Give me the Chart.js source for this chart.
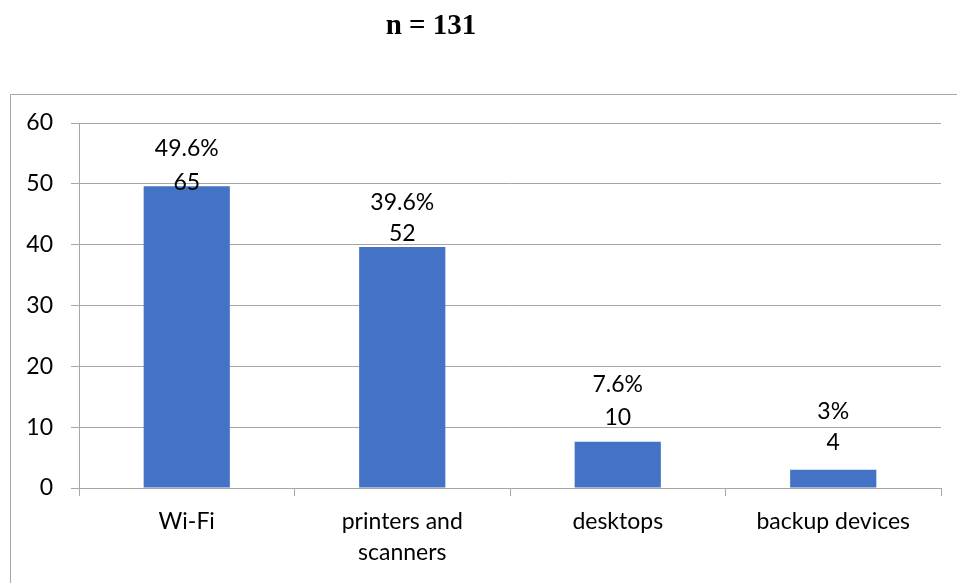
<!DOCTYPE html>
<html>
<head>
<meta charset="utf-8">
<title>Devices</title>
<script src="https://cdn.jsdelivr.net/npm/chart.js@4/dist/chart.umd.min.js"></script>
<style>
  html, body { margin: 0; padding: 0; background: #ffffff; }
  #wrap { width: 957px; height: 583px; position: relative; }
</style>
</head>
<body>
<div id="wrap"><canvas id="chart" width="957" height="583"></canvas></div>
<script>
// Device types and respondent shares
const categories = ['Wi-Fi', ['printers and', 'scanners'], 'desktops', 'backup devices'];
const percentages = [49.6, 39.6, 7.6, 3];
const counts = [65, 52, 10, 4];
const yTicks = [0, 10, 20, 30, 40, 50, 60];
const sampleTitle = 'n = 131';

const FONT = 'Lato, "Open Sans", sans-serif';
const FONT_SIZE = 23;
const GRID = '#a6a6a6';

// Outer frame and heading
const framePlugin = {
  id: 'frame',
  beforeDraw(chart) {
    const ctx = chart.ctx;
    ctx.save();
    ctx.strokeStyle = GRID;
    ctx.lineWidth = 1;
    ctx.beginPath();
    ctx.moveTo(10.5, chart.height);
    ctx.lineTo(10.5, 94.5);
    ctx.lineTo(chart.width, 94.5);
    ctx.stroke();
    ctx.fillStyle = '#000000';
    ctx.font = 'bold 29px "Liberation Serif", "Times New Roman", serif';
    ctx.textAlign = 'center';
    ctx.textBaseline = 'alphabetic';
    ctx.fillText(sampleTitle, 431, 34);
    ctx.restore();
  }
};

// Two-line value labels (share and count) above each bar
const valueLabels = {
  id: 'valueLabels',
  afterDatasetsDraw(chart, args, opts) {
    const ctx = chart.ctx;
    const meta = chart.getDatasetMeta(0);
    ctx.save();
    ctx.fillStyle = '#000000';
    ctx.font = FONT_SIZE + 'px ' + FONT;
    ctx.textAlign = 'center';
    ctx.textBaseline = 'middle';
    meta.data.forEach((bar, i) => {
      const yCount = bar.y - opts.lift[i];
      ctx.fillText(String(counts[i]), bar.x, yCount);
      ctx.fillText(percentages[i] + '%', bar.x, yCount - opts.gap[i]);
    });
    ctx.restore();
  }
};

new Chart(document.getElementById('chart'), {
  type: 'bar',
  data: {
    labels: categories,
    datasets: [{
      data: percentages,
      backgroundColor: '#4472C4',
      borderWidth: 0,
      barPercentage: 0.4,
      categoryPercentage: 1.0
    }]
  },
  options: {
    responsive: false,
    animation: false,
    layout: { padding: { top: 123, right: 16, left: 0, bottom: 0 } },
    plugins: {
      legend: { display: false },
      tooltip: { enabled: false },
      title: { display: false },
      valueLabels: { lift: [4, 14, 24, 27], gap: [34, 31, 33, 31] }
    },
    scales: {
      x: {
        afterFit(scale) { scale.height = 95; },
        grid: { display: true, drawOnChartArea: false, drawTicks: true, tickLength: 8, color: GRID, offset: true },
        border: { display: true, color: GRID },
        ticks: {
          color: '#000000',
          padding: 10,
          maxRotation: 0,
          autoSkip: false,
          font: { family: FONT, size: FONT_SIZE, lineHeight: 1.35 }
        }
      },
      y: {
        min: 0,
        max: 60,
        afterFit(scale) { scale.width = 79; },
        afterBuildTicks(scale) { scale.ticks = yTicks.map(v => ({ value: v })); },
        grid: { color: GRID, tickLength: 8, drawTicks: true },
        border: { display: true, color: GRID },
        ticks: {
          color: '#000000',
          padding: 18,
          font: { family: FONT, size: FONT_SIZE }
        }
      }
    }
  },
  plugins: [framePlugin, valueLabels]
});
</script>
</body>
</html>
